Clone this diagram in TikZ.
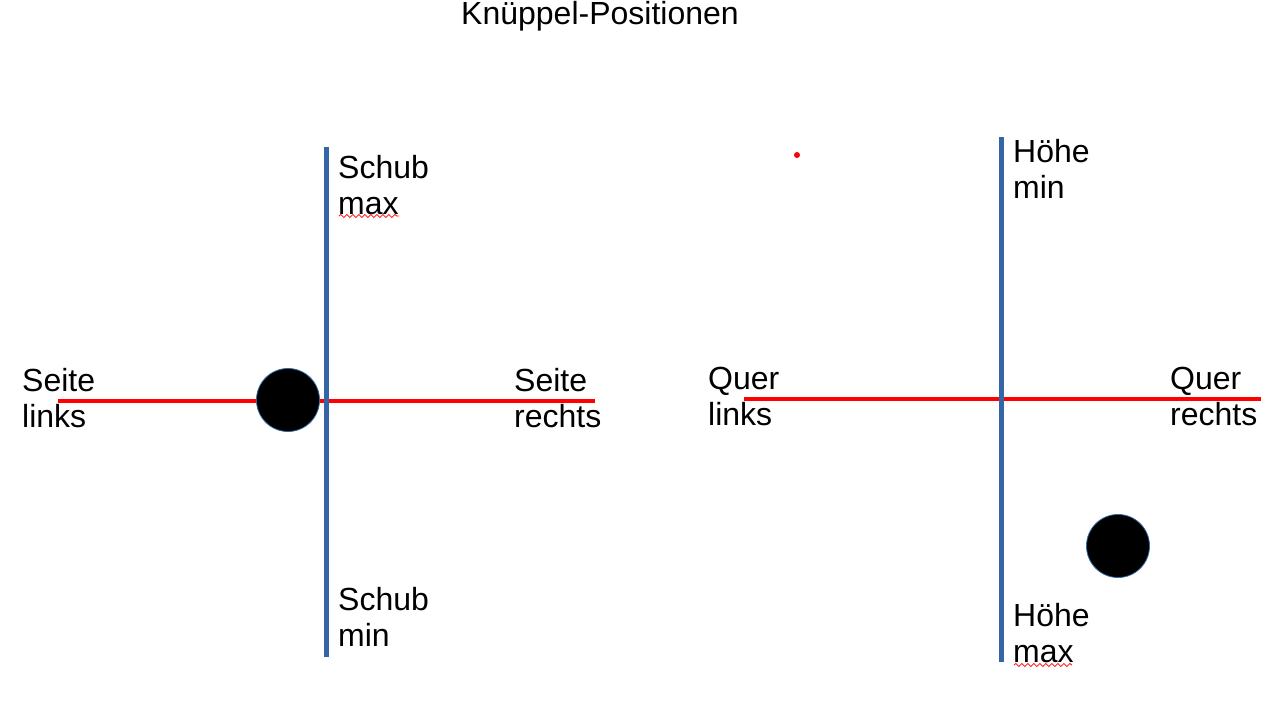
\documentclass[tikz,border=0pt]{standalone}
\usepackage{fontspec}
\setmainfont{Liberation Sans}
\usetikzlibrary{decorations.pathmorphing}
\definecolor{axisblue}{HTML}{3465A4}
\definecolor{axisred}{HTML}{FF0000}
\tikzset{
  vaxis/.style={draw=axisblue, line width=5pt},
  haxis/.style={draw=axisred, line width=4pt},
  stick/.style={circle, fill=black, draw=axisblue, line width=0.8pt, minimum size=63pt, inner sep=0pt},
  lbl/.style={anchor=base west, inner sep=0pt, font=\fontsize{32}{37}\selectfont},
  spell/.style={draw=axisred, line width=0.8pt, decorate, decoration={snake, amplitude=1.5pt, segment length=6pt}}
}
\begin{document}
\begin{tikzpicture}[x=1pt,y=-1pt]
\useasboundingbox (0,0) rectangle (1270,709);
% title
\node[lbl] (title) at (461,25) {Knüppel-Positionen};
% left stick
\coordinate (lt) at (326,147);
\coordinate (lb) at (326,657);
\coordinate (ll) at (58,401);
\coordinate (lr) at (595,401);
\draw[haxis] (ll) -- (lr);
\draw[vaxis] (lt) -- (lb);
\node[stick] (lstick) at (288,400) {};
\node[lbl] (schubmax1) at (338,178) {Schub};
\node[lbl] (schubmax2) at (338,214) {max};
\coordinate (sp1a) at (339,216);
\coordinate (sp1b) at (399,216);
\draw[spell] (sp1a) -- (sp1b);
\node[lbl] (schubmin1) at (338,610) {Schub};
\node[lbl] (schubmin2) at (338,646) {min};
\node[lbl] (seitel1) at (22,391) {Seite};
\node[lbl] (seitel2) at (22,427) {links};
\node[lbl] (seiter1) at (514,391) {Seite};
\node[lbl] (seiter2) at (514,427) {rechts};
% right stick
\coordinate (rt) at (1001,137);
\coordinate (rb) at (1001,662);
\coordinate (rl) at (744,399);
\coordinate (rr) at (1261,399);
\draw[haxis] (rl) -- (rr);
\draw[vaxis] (rt) -- (rb);
\node[stick] (rstick) at (1118,546) {};
\node[circle, fill=axisred, inner sep=0pt, minimum size=6pt] (dot) at (797,155) {};
\node[lbl] (hoehemin1) at (1013,162) {Höhe};
\node[lbl] (hoehemin2) at (1013,198) {min};
\node[lbl] (hoehemax1) at (1013,626) {Höhe};
\node[lbl] (hoehemax2) at (1013,662) {max};
\coordinate (sp2a) at (1014,665);
\coordinate (sp2b) at (1072,665);
\draw[spell] (sp2a) -- (sp2b);
\node[lbl] (querl1) at (708,389) {Quer};
\node[lbl] (querl2) at (708,425) {links};
\node[lbl] (querr1) at (1170,389) {Quer};
\node[lbl] (querr2) at (1170,425) {rechts};
\end{tikzpicture}
\end{document}
